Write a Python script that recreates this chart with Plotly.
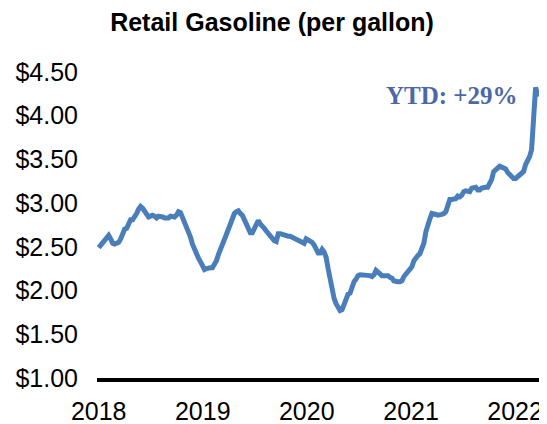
import pandas as pd
import plotly.graph_objects as go

# weekly US retail gasoline, $/gal (Mondays from 2018-01-01)
p2018 = [2.49,2.52,2.56,2.58,2.60,2.63,2.59,2.54,2.53,2.54,2.55,2.59,2.65,2.70,2.71,2.76,2.81,2.81,2.84,2.88,
         2.93,2.96,2.94,2.91,2.88,2.84,2.85,2.86,2.85,2.83,2.85,2.85,2.84,2.83,2.83,2.83,2.85,2.85,2.84,2.86,
         2.90,2.89,2.84,2.79,2.73,2.67,2.61,2.53,2.47,2.42,2.37,2.33,2.27]
p2019 = [2.24,2.25,2.26,2.26,2.26,2.29,2.34,2.41,2.46,2.52,2.57,2.64,2.70,2.77,2.83,2.88,2.90,2.91,2.88,2.86,
         2.81,2.76,2.72,2.66,2.66,2.71,2.75,2.80,2.76,2.74,2.71,2.68,2.65,2.62,2.59,2.57,2.56,2.65,2.65,2.64,
         2.64,2.63,2.62,2.62,2.61,2.60,2.59,2.58,2.56,2.55,2.54,2.59]
p2020 = [2.58,2.57,2.55,2.52,2.47,2.43,2.43,2.47,2.44,2.38,2.25,2.13,2.01,1.91,1.85,1.80,1.77,1.78,1.83,1.88,
         1.96,1.97,2.04,2.10,2.13,2.17,2.18,2.18,2.18,2.17,2.17,2.17,2.16,2.18,2.23,2.21,2.18,2.17,2.17,2.17,
         2.17,2.15,2.14,2.11,2.10,2.10,2.10,2.11,2.16,2.19,2.23,2.25]
p2021 = [2.27,2.34,2.38,2.40,2.42,2.48,2.54,2.67,2.76,2.82,2.88,2.88,2.87,2.86,2.86,2.87,2.88,2.90,2.97,3.04,
         3.04,3.04,3.05,3.08,3.07,3.09,3.13,3.14,3.14,3.13,3.17,3.18,3.18,3.15,3.15,3.17,3.18,3.18,3.18,3.22,
         3.27,3.36,3.38,3.40,3.42,3.41,3.40,3.39,3.35,3.32,3.30,3.28]
p2022 = [3.28,3.30,3.31,3.33,3.36,3.44,3.48,3.53,3.61,4.10,4.32,4.25,4.24]
years = ['2018','2019','2020','2021','2022']
ytd_label = 'YTD: +29%'

price = p2018 + p2019 + p2020 + p2021 + p2022
weeks = pd.date_range('2018-01-01', periods=len(price), freq='7D')

LINE = '#4A7EBB'
TXT = '#4C67A8'

# page body has an 8px margin, so the figure is sized/offset to compensate
W, H = 539, 416

fig = go.Figure()
fig.add_trace(go.Scatter(x=weeks, y=price, mode='lines', line=dict(color=LINE, width=5), showlegend=False))

fig.add_annotation(text=f'<b>{ytd_label}</b>', xref='paper', yref='paper', x=0.952, y=0.896,
                   xanchor='right', yanchor='middle', showarrow=False,
                   font=dict(family='Liberation Serif', size=25, color=TXT))

fig.update_layout(
    width=W, height=H, margin=dict(l=89, r=6, t=55, b=46, autoexpand=False),
    paper_bgcolor='white', plot_bgcolor='white',
    font=dict(family='Liberation Sans, Arial', size=25, color='black'),
    title=dict(text='<b>Retail Gasoline (per gallon)</b>', x=264/W, xanchor='center', xref='container',
               y=1 - 14/H, yanchor='middle', yref='container', font=dict(size=25, color='black')),
    xaxis=dict(range=['2017-12-26', '2022-04-02'], tickvals=[f'{y}-01-01' for y in years], ticktext=years,
               showgrid=False, zeroline=False, showline=True, linecolor='black', linewidth=4,
               ticks='', ticklabelstandoff=8),
    yaxis=dict(range=[1, 4.6], tick0=1, dtick=0.5, tickprefix='$', tickformat='.2f',
               showgrid=False, zeroline=False, showline=False, ticks='', ticklabelstandoff=18),
)

fig.write_html('out.html')
